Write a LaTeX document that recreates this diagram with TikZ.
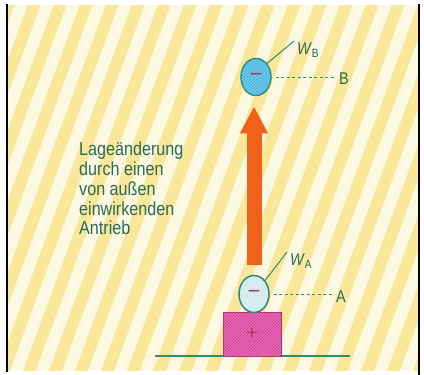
\documentclass[tikz,border=0pt]{standalone}
\usepackage{fontspec}
\setmainfont{Liberation Sans}
\newfontfamily\narrow{Liberation Sans}[FakeStretch=0.85]
\usetikzlibrary{shapes.geometric,patterns,arrows.meta}
\definecolor{cream}{HTML}{FDF8E2}
\definecolor{stripe}{HTML}{FAE89A}
\definecolor{rim}{HTML}{2E8B70}
\definecolor{ink}{HTML}{2A6A58}
\definecolor{ballBfill}{HTML}{6FCBEE}
\definecolor{ballBhatch}{HTML}{45ABD8}
\definecolor{ballAfill}{HTML}{D6EDF0}
\definecolor{boxfill}{HTML}{EC68B8}
\definecolor{boxhatch}{HTML}{C8408E}
\definecolor{boxrim}{HTML}{B0306E}
\definecolor{sign}{HTML}{B8335A}
\definecolor{lift}{HTML}{F0621C}
\begin{document}
\begin{tikzpicture}[x=1pt, y=-1pt, every node/.style={font=\narrow\fontsize{17}{19}\selectfont, text=ink},
  ball/.style={ellipse, draw=rim, line width=1.5pt, inner sep=0pt, minimum width=30pt, minimum height=37pt,
    font=\fontsize{22}{22}\selectfont},
  guide/.style={draw=rim, dash pattern=on 3pt off 2.5pt, line width=1pt},
  tag/.style={draw=rim, line width=1pt}]
\useasboundingbox (0,0) rectangle (424,375);
% striped background
\fill[cream] (8,5) rectangle (418,370);
\begin{scope}
\clip (8,5) rectangle (418,370);
\foreach \i in {-6,...,17}
  \draw[stripe, line width=12pt] (\i*26,380) -- (\i*26+140,0);
\end{scope}
\draw[line width=1.6pt] (7,4) -- (7,372);
\draw[line width=1.6pt] (419,4) -- (419,375);
% ground and body
\coordinate (gl) at (155,356);
\coordinate (gr) at (350,356);
\draw[rim, line width=1.5pt] (gl) -- (gr);
\node[draw=boxrim, line width=1pt, fill=boxfill, postaction={pattern=north east lines, pattern color=boxhatch},
  minimum width=58pt, minimum height=44pt, inner sep=0pt, font=\fontsize{20}{20}\selectfont] (base) at (252,334) {\textcolor{sign}{+}};
% charges
\node[ball, fill=ballAfill] (ballA) at (254,294) {\textcolor{sign}{−}};
\node[ball, fill=ballBfill, postaction={pattern=north east lines, pattern color=ballBhatch}] (ballB) at (256,77) {\textcolor{sign}{−}};
% lift
\draw[lift, line width=15pt, -{Triangle[length=27pt, width=26pt]}, shorten <=10pt, shorten >=10pt]
  (ballA.north) -- (ballA.north |- ballB.south);
% labels
\node[anchor=north west, inner sep=0pt] (wB) at (297,43) {\textit{W}\textsubscript{B}};
\node[anchor=north west, inner sep=0pt] (wA) at (290,254) {\textit{W}\textsubscript{A}};
\draw[tag] (ballB.north east) -- ([xshift=-3pt, yshift=2pt]wB.north west);
\draw[tag] (ballA.north east) -- ([xshift=-3pt, yshift=2pt]wA.north west);
\node (ptB) at (344,79) {B};
\node (ptA) at (341,297) {A};
\draw[guide] ([xshift=4pt]ballB.east) -- (ballB.east -| ptB.west);
\draw[guide] ([xshift=4pt]ballA.east) -- (ballA.east -| ptA.west);
\node[anchor=north west, align=left, inner sep=0pt, font=\narrow\fontsize{19}{19.7}\selectfont] (info) at (79,142)
  {Lageänderung\\durch einen\\von außen\\einwirkenden\\Antrieb};
\end{tikzpicture}
\end{document}
